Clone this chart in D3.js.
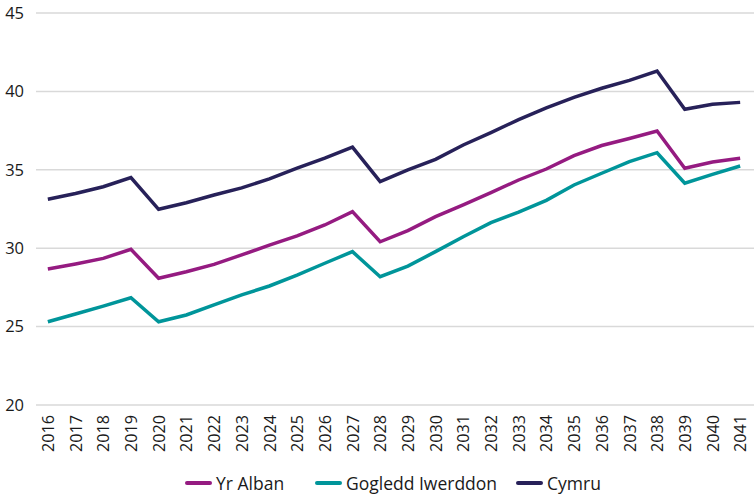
<!DOCTYPE html>
<html>
<head>
<meta charset="utf-8">
<script src="https://cdn.jsdelivr.net/npm/d3@7"></script>
<style>
  body { margin: 0; background: #fff; }
  svg { font-family: "Open Sans", "Noto Sans", sans-serif; }
</style>
</head>
<body>
<div id="chart"></div>
<script>
"use strict";
const years = d3.range(2016, 2042).map(String);
const yTicks = [20, 25, 30, 35, 40, 45];
const seriesNames = ["Yr Alban", "Gogledd Iwerddon", "Cymru"];
const yrAlban = [28.67, 28.99, 29.35, 29.93, 28.08, 28.5, 28.97, 29.57, 30.2, 30.78, 31.48, 32.33, 30.41, 31.12, 32.01, 32.76, 33.54, 34.35, 35.05, 35.9, 36.55, 37.0, 37.47, 35.1, 35.5, 35.73];
const gogleddIwerddon = [25.31, 25.8, 26.31, 26.84, 25.31, 25.74, 26.38, 27.02, 27.59, 28.29, 29.04, 29.78, 28.18, 28.86, 29.78, 30.73, 31.63, 32.3, 33.05, 34.03, 34.78, 35.52, 36.09, 34.14, 34.71, 35.24];
const cymru = [33.12, 33.49, 33.92, 34.5, 32.48, 32.9, 33.39, 33.85, 34.42, 35.1, 35.75, 36.45, 34.24, 34.99, 35.67, 36.58, 37.37, 38.2, 38.95, 39.62, 40.2, 40.7, 41.3, 38.86, 39.18, 39.3];
const colors = ["#951b81", "#00959a", "#272159"];

const width = 754, height = 497;
const svg = d3.select("#chart").append("svg")
    .attr("width", width)
    .attr("height", height);

const x = d3.scalePoint().domain(years).range([34, 754]).padding(0.5);
const y = d3.scaleLinear().domain([20, 45]).range([405, 13]);

// gridlines
svg.append("g")
    .selectAll("line")
    .data(yTicks)
    .join("line")
    .attr("x1", 36)
    .attr("x2", 754)
    .attr("y1", d => y(d))
    .attr("y2", d => y(d))
    .attr("stroke", "#d9d9d9")
    .attr("stroke-width", 1.5);

// y axis labels
const yAxis = svg.append("g")
    .attr("transform", "translate(24,0)")
    .call(d3.axisLeft(y).tickValues(yTicks).tickSize(0).tickPadding(0));
yAxis.select(".domain").remove();
yAxis.selectAll("text")
    .attr("font-size", 16.5)
    .attr("fill", "#1a1a1a")
    .attr("font-family", "'Open Sans', sans-serif");

// x axis labels
const xAxis = svg.append("g")
    .attr("transform", "translate(0,405)")
    .call(d3.axisBottom(x).tickSize(0).tickPadding(0));
xAxis.select(".domain").remove();
xAxis.selectAll("text")
    .attr("font-size", 16.2)
    .attr("fill", "#1a1a1a")
    .attr("font-family", "'Open Sans', sans-serif")
    .attr("text-anchor", "end")
    .attr("dy", "0.35em")
    .attr("transform", "translate(0,10) rotate(-90)")
    .attr("y", 0)
    .attr("x", 0);

// lines
const allSeries = [yrAlban, gogleddIwerddon, cymru];
const line = d3.line()
    .x((d, i) => x(years[i]))
    .y(d => y(d));

svg.append("g")
    .selectAll("path")
    .data(allSeries)
    .join("path")
    .attr("d", line)
    .attr("fill", "none")
    .attr("stroke", (d, i) => colors[i])
    .attr("stroke-width", 3.5)
    .attr("stroke-linejoin", "miter");

// legend
const legendX = [187, 317, 518];
const legend = svg.append("g")
    .selectAll("g")
    .data(seriesNames)
    .join("g")
    .attr("transform", (d, i) => `translate(${legendX[i]},483)`);
legend.append("line")
    .attr("x1", 0)
    .attr("x2", 23)
    .attr("stroke", (d, i) => colors[i])
    .attr("stroke-width", 4)
    .attr("stroke-linecap", "round");
legend.append("text")
    .attr("x", 29)
    .attr("y", 6.5)
    .attr("font-size", 17.5)
    .attr("fill", "#1a1a1a")
    .text(d => d);
</script>
</body>
</html>
